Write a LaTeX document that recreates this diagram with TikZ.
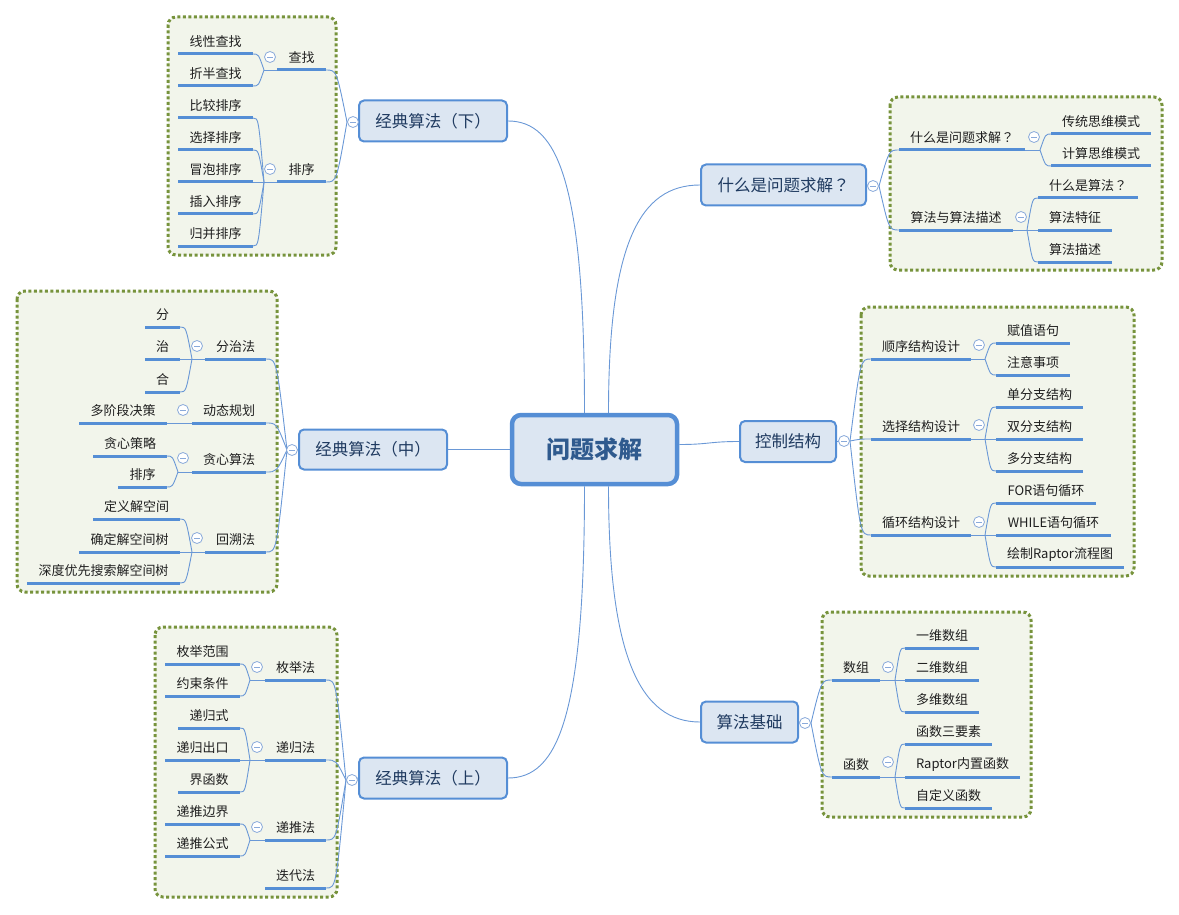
\documentclass[tikz,border=0pt]{standalone}
\usepackage{fontspec}
\setmainfont{Noto Sans CJK SC}
\newfontfamily\tcfont{Noto Sans CJK TC}
\newcommand\qm{{\tcfont ？}}
\usetikzlibrary{calc}
\pgfdeclarelayer{frames}
\pgfdeclarelayer{bg}
\pgfsetlayers{frames,bg,main}
\definecolor{linec}{HTML}{6A98D6}
\definecolor{barc}{HTML}{558ED5}
\definecolor{boxfill}{HTML}{DCE6F2}
\definecolor{boxdraw}{HTML}{558ED5}
\definecolor{framec}{HTML}{77933C}
\definecolor{framefill}{HTML}{F2F5EB}
\definecolor{maintext}{HTML}{1F3A60}
\definecolor{centertext}{HTML}{2F5A8E}
\definecolor{btnc}{HTML}{8AAADA}
\tikzset{
  conn/.style={draw=linec, line width=0.9pt},
  barline/.style={draw=barc, line width=3pt},
  itemtxt/.style={font=\fontsize{13}{15}\selectfont, text=black!88, inner sep=0pt},
  topic/.style={draw=boxdraw, fill=boxfill, line width=2pt, rounded corners=5pt,
    font=\fontsize{16.5}{19}\selectfont, text=maintext, inner sep=0pt, minimum height=41pt},
  centre/.style={draw=boxdraw, fill=boxfill, line width=4.5pt, rounded corners=9pt,
    font=\fontsize{24}{28}\selectfont\bfseries, text=centertext, inner sep=0pt,
    minimum width=165pt, minimum height=69pt},
  grp/.style={draw=framec, fill=framefill, line width=3pt, dash pattern=on 3pt off 2.5pt, rounded corners=8pt},
  colbtn/.style={circle, draw=btnc, fill=white, line width=0.8pt, minimum size=11pt, inner sep=0pt,
    path picture={\draw[btnc, line width=0.8pt] ([xshift=-2.8pt]path picture bounding box.center) -- ([xshift=2.8pt]path picture bounding box.center);}}
}
\newcommand\mmitem[5]{%
  \coordinate (#1-l) at (#2,#4);
  \coordinate (#1-r) at (#3,#4);
  \draw[barline] (#1-l) -- (#1-r);
  \node[itemtxt] (#1) at ({(#2+#3)/2},{#4-12.5}) {#5};
}
\newcommand\mmfan[2]{%
  \foreach \e in {#2} {\draw[conn] (\e) .. controls ($(\e)!0.5!(#1 |- \e)$) .. (#1);}
}
\begin{document}
\begin{tikzpicture}[x=1pt,y=-1pt]
\useasboundingbox (0,0) rectangle (1179,915);
% frames
\begin{pgfonlayer}{frames}
\draw[grp] (168,17) rectangle (336,255);
\draw[grp] (890,97) rectangle (1162,270);
\draw[grp] (861,307) rectangle (1134,576);
\draw[grp] (822,612) rectangle (1031,817);
\draw[grp] (17,291) rectangle (277,592);
\draw[grp] (155,627) rectangle (337,897);
\end{pgfonlayer}
% centre and topics
\node[centre] (ctr) at (594.5,449.5) {问题求解};
\node[topic, minimum width=148pt] (tA) at (433,121) {经典算法（下）};
\node[topic, minimum width=165pt] (tB) at (783.5,185) {什么是问题求解\qm};
\node[topic, minimum width=96pt] (tC) at (788,441.5) {控制结构};
\node[topic, minimum width=97pt] (tD) at (749.5,722) {算法基础};
\node[topic, minimum width=148pt, minimum height=40pt] (tE) at (373,449.5) {经典算法（中）};
\node[topic, minimum width=148pt] (tF) at (433,778) {经典算法（上）};
\coordinate (cTL) at ($(ctr.north)+(-10,0)$);
\coordinate (cTR) at ($(ctr.north)+(14,0)$);
\coordinate (cBL) at ($(ctr.south)+(-10,0)$);
\coordinate (cBR) at ($(ctr.south)+(14,0)$);
\coordinate (cR) at ($(ctr.east)+(0,-5)$);
% ---------- group A
\mmitem{a1}{277}{326}{70}{查找}
\mmitem{a2}{277}{326}{182}{排序}
\mmitem{a11}{178}{253}{54}{线性查找}
\mmitem{a12}{178}{253}{86}{折半查找}
\mmitem{a21}{178}{253}{118}{比较排序}
\mmitem{a22}{178}{253}{150}{选择排序}
\mmitem{a23}{178}{253}{182}{冒泡排序}
\mmitem{a24}{178}{253}{214}{插入排序}
\mmitem{a25}{178}{253}{246}{归并排序}
\coordinate (ja1) at (264,70);
\coordinate (ja2) at (264,182);
\coordinate (jA) at (347,122);
% ---------- group B
\mmitem{b1}{899}{1025}{150}{什么是问题求解\qm}
\mmitem{b2}{899}{1013}{230}{算法与算法描述}
\mmitem{b11}{1051}{1151}{134}{传统思维模式}
\mmitem{b12}{1051}{1151}{166}{计算思维模式}
\mmitem{b21}{1038}{1138}{198}{什么是算法\qm}
\mmitem{b22}{1038}{1112}{230}{算法特征}
\mmitem{b23}{1038}{1112}{262}{算法描述}
\coordinate (jb1) at (1040,150);
\coordinate (jb2) at (1027,230);
\coordinate (jB) at (879,186);
% ---------- group C
\mmitem{c1}{871}{971}{359}{顺序结构设计}
\mmitem{c2}{871}{971}{439}{选择结构设计}
\mmitem{c3}{871}{971}{535}{循环结构设计}
\mmitem{c11}{996}{1070}{343}{赋值语句}
\mmitem{c12}{996}{1070}{375}{注意事项}
\mmitem{c21}{996}{1083}{407}{单分支结构}
\mmitem{c22}{996}{1083}{439}{双分支结构}
\mmitem{c23}{996}{1083}{471}{多分支结构}
\mmitem{c31}{996}{1096}{503}{FOR语句循环}
\mmitem{c32}{996}{1111}{535}{WHILE语句循环}
\mmitem{c33}{996}{1124}{567}{绘制Raptor流程图}
\coordinate (jc1) at (985,359);
\coordinate (jc2) at (985,439);
\coordinate (jc3) at (985,535);
\coordinate (jC) at (850,441);
% ---------- group D
\mmitem{d1}{832}{880}{680}{数组}
\mmitem{d2}{832}{880}{777}{函数}
\mmitem{d11}{905}{979}{648}{一维数组}
\mmitem{d12}{905}{979}{680}{二维数组}
\mmitem{d13}{905}{979}{712}{多维数组}
\mmitem{d21}{905}{992}{744}{函数三要素}
\mmitem{d22}{905}{1020}{777}{Raptor内置函数}
\mmitem{d23}{905}{992}{808}{自定义函数}
\coordinate (jd1) at (895,680);
\coordinate (jd2) at (895,777);
\coordinate (jD) at (811,723);
% ---------- group E
\mmitem{e1}{205}{266}{359}{分治法}
\mmitem{e2}{192}{266}{423}{动态规划}
\mmitem{e3}{192}{266}{472}{贪心算法}
\mmitem{e4}{205}{266}{552}{回溯法}
\mmitem{e11}{145}{180}{327}{分}
\mmitem{e12}{145}{180}{359}{治}
\mmitem{e13}{145}{180}{392}{合}
\mmitem{e21}{79}{167}{423}{多阶段决策}
\mmitem{e31}{93}{167}{456}{贪心策略}
\mmitem{e32}{118}{167}{487}{排序}
\mmitem{e41}{93}{180}{519}{定义解空间}
\mmitem{e42}{79}{180}{552}{确定解空间树}
\mmitem{e43}{27}{180}{583}{深度优先搜索解空间树}
\coordinate (je1) at (192,359);
\coordinate (je3) at (178,472);
\coordinate (je4) at (192,552);
\coordinate (jE) at (287,450);
% ---------- group F
\mmitem{f1}{265}{326}{680}{枚举法}
\mmitem{f2}{265}{326}{760}{递归法}
\mmitem{f3}{265}{326}{840}{递推法}
\mmitem{f4}{265}{326}{888}{迭代法}
\mmitem{f11}{165}{240}{664}{枚举范围}
\mmitem{f12}{165}{240}{696}{约束条件}
\mmitem{f21}{178}{240}{728}{递归式}
\mmitem{f22}{165}{240}{760}{递归出口}
\mmitem{f23}{178}{240}{792}{界函数}
\mmitem{f31}{165}{240}{824}{递推边界}
\mmitem{f32}{165}{240}{856}{递推公式}
\coordinate (jf1) at (250,680);
\coordinate (jf2) at (250,760);
\coordinate (jf3) at (250,840);
\coordinate (jF) at (346,780);
% ---------- connectors
\begin{pgfonlayer}{bg}
\draw[conn] (cTL) .. controls ($(cTL)+(0,-230)$) and ($(tA.east)+(50,0)$) .. (tA.east);
\draw[conn] (cTR) .. controls ($(cTR)+(0,-170)$) and ($(tB.west)+(-60,0)$) .. (tB.west);
\draw[conn] (cR) .. controls ($(cR)+(30,0)$) and ($(tC.west)+(-30,0)$) .. (tC.west);
\draw[conn] (cBR) .. controls ($(cBR)+(0,170)$) and ($(tD.west)+(-60,0)$) .. (tD.west);
\draw[conn] (cBL) .. controls ($(cBL)+(0,230)$) and ($(tF.east)+(50,0)$) .. (tF.east);
\draw[conn] (ctr.west) -- (tE.east);
% A
\draw[conn] (jA) -- (tA.west);
\mmfan{jA}{a1-r,a2-r}
\draw[conn] (a1-l) -- (ja1); \mmfan{ja1}{a11-r,a12-r}
\draw[conn] (a2-l) -- (ja2); \mmfan{ja2}{a21-r,a22-r,a23-r,a24-r,a25-r}
% B
\draw[conn] (tB.east) -- (jB);
\mmfan{jB}{b1-l,b2-l}
\draw[conn] (b1-r) -- (jb1); \mmfan{jb1}{b11-l,b12-l}
\draw[conn] (b2-r) -- (jb2); \mmfan{jb2}{b21-l,b22-l,b23-l}
% C
\draw[conn] (tC.east) -- (jC);
\mmfan{jC}{c1-l,c2-l,c3-l}
\draw[conn] (c1-r) -- (jc1); \mmfan{jc1}{c11-l,c12-l}
\draw[conn] (c2-r) -- (jc2); \mmfan{jc2}{c21-l,c22-l,c23-l}
\draw[conn] (c3-r) -- (jc3); \mmfan{jc3}{c31-l,c32-l,c33-l}
% D
\draw[conn] (tD.east) -- (jD);
\mmfan{jD}{d1-l,d2-l}
\draw[conn] (d1-r) -- (jd1); \mmfan{jd1}{d11-l,d12-l,d13-l}
\draw[conn] (d2-r) -- (jd2); \mmfan{jd2}{d21-l,d22-l,d23-l}
% E
\draw[conn] (jE) -- (tE.west);
\mmfan{jE}{e1-r,e2-r,e3-r,e4-r}
\draw[conn] (e1-l) -- (je1); \mmfan{je1}{e11-r,e12-r,e13-r}
\draw[conn] (e21-r) -- (e2-l);
\draw[conn] (e3-l) -- (je3); \mmfan{je3}{e31-r,e32-r}
\draw[conn] (e4-l) -- (je4); \mmfan{je4}{e41-r,e42-r,e43-r}
% F
\draw[conn] (jF) -- (tF.west);
\mmfan{jF}{f1-r,f2-r,f3-r,f4-r}
\draw[conn] (f1-l) -- (jf1); \mmfan{jf1}{f11-r,f12-r}
\draw[conn] (f2-l) -- (jf2); \mmfan{jf2}{f21-r,f22-r,f23-r}
\draw[conn] (f3-l) -- (jf3); \mmfan{jf3}{f31-r,f32-r}
\end{pgfonlayer}
% ---------- collapse buttons
\node[colbtn] (kA) at (353,122) {};
\node[colbtn] (kA1) at (270,57) {};
\node[colbtn] (kA2) at (270,169) {};
\node[colbtn] (kB) at (873,186) {};
\node[colbtn] (kB1) at (1034,137) {};
\node[colbtn] (kB2) at (1021,217) {};
\node[colbtn] (kC) at (844,441) {};
\node[colbtn] (kC1) at (979,345) {};
\node[colbtn] (kC2) at (979,425) {};
\node[colbtn] (kC3) at (979,522) {};
\node[colbtn] (kD) at (805,723) {};
\node[colbtn] (kD1) at (888,667) {};
\node[colbtn] (kD2) at (888,762) {};
\node[colbtn] (kE) at (292,450) {};
\node[colbtn] (kE1) at (197,346) {};
\node[colbtn] (kE2) at (183,410) {};
\node[colbtn] (kE3) at (183,458) {};
\node[colbtn] (kE4) at (197,538) {};
\node[colbtn] (kF) at (352,780) {};
\node[colbtn] (kF1) at (257,667) {};
\node[colbtn] (kF2) at (257,747) {};
\node[colbtn] (kF3) at (257,827) {};
\end{tikzpicture}
\end{document}
